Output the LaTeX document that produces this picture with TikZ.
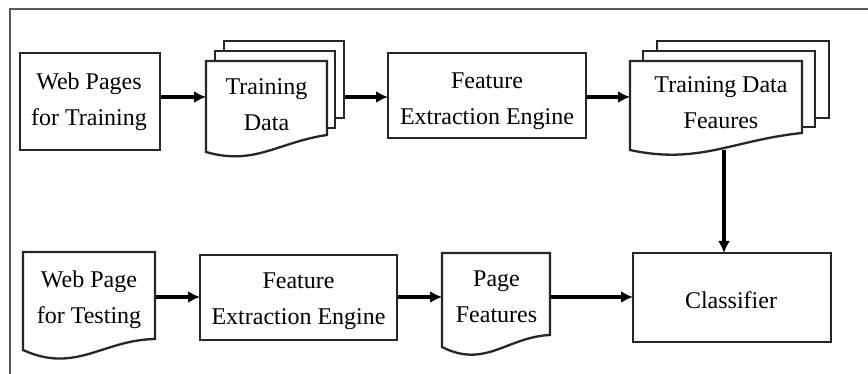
\documentclass[tikz,border=0pt]{standalone}
\usepackage{fontspec}
\setmainfont{Liberation Serif}
\usetikzlibrary{calc,arrows.meta}
\pgfdeclarelayer{arrowlayer}
\pgfdeclarelayer{shapelayer}
\pgfsetlayers{arrowlayer,shapelayer,main}
\newcommand{\docoutline}[4]{%
  \draw[docline] (#1.south west)
    .. controls ($(#1.south west)!0.4!(#1.south east)+(0,#3)$)
            and ($(#1.south west)!0.6!(#1.south east)+(0,-#4)$)
    .. ($(#1.south east)+(0,-#2)$) -- (#1.north east) -- (#1.north west) -- cycle;}
\begin{document}
\begin{tikzpicture}[x=1pt,y=-1pt,
  box/.style={draw=black!85, line width=2.3pt, inner sep=0pt, outer sep=0pt},
  shp/.style={inner sep=0pt, outer sep=0pt},
  docline/.style={draw=black!85, line width=2.3pt, fill=white, line join=miter},
  txt/.style={font=\fontsize{24}{36}\selectfont, align=center, inner sep=0pt, text=black},
  arr/.style={line width=3.4pt, draw=black, -{Latex[length=12pt,width=12pt]}},
  frame/.style={draw=black!65, line width=1.2pt}]
\useasboundingbox (0,0) rectangle (868,374);
\draw[frame] (868,9) -- (10,9) -- (10,374);

% geometry nodes
\node[box, minimum width=140pt, minimum height=97pt] (wpt) at (90,101.5) {};
\node[shp, minimum width=121pt, minimum height=91pt] (td) at (266.5,106.5) {};
\node[box, minimum width=198pt, minimum height=85pt] (fe1) at (487,95.5) {};
\node[shp, minimum width=172pt, minimum height=89pt] (tdf) at (716,105.5) {};
\node[shp, minimum width=132pt, minimum height=98pt] (wpte) at (89,301) {};
\node[box, minimum width=197pt, minimum height=85pt] (fe2) at (298.5,297.5) {};
\node[shp, minimum width=108pt, minimum height=94pt] (pf) at (496,300) {};
\node[box, minimum width=198pt, minimum height=89pt] (cls) at (732,297.5) {};

% texts
\node[txt] (wptT) at (89,101.4) {Web Pages\\for Training};
\node[txt] (tdT) at (266.5,104.8) {Training\\Data};
\node[txt] (fe1T) at (487,101.4) {Feature\\Extraction Engine};
\node[txt] (tdfT) at (721,102.8) {Training Data\\Feaures};
\node[txt] (wpteT) at (89,299.4) {Web Page\\for Testing};
\node[txt] (fe2T) at (298.5,301.4) {Feature\\Extraction Engine};
\node[txt] (pfT) at (496.5,296.8) {Page\\Features};
\node[txt] (clsT) at (731,299.8) {Classifier};

% document shapes
\begin{pgfonlayer}{shapelayer}
  \draw[docline] ($(td.north west)+(18,-20)$) rectangle ($(td.south east)+(17,-34)$);
  \draw[docline] ($(td.north west)+(9,-10)$) rectangle ($(td.south east)+(8,-24)$);
  \docoutline{td}{17}{14}{10}
  \draw[docline] ($(tdf.north west)+(27,-20)$) rectangle ($(tdf.south east)+(27,-32)$);
  \draw[docline] ($(tdf.north west)+(13,-10)$) rectangle ($(tdf.south east)+(13,-23)$);
  \docoutline{tdf}{17}{15}{10}
  \docoutline{wpte}{11}{24}{10}
  \docoutline{pf}{12}{22}{10}
\end{pgfonlayer}

% connectors
\coordinate (r1) at (0,97);
\coordinate (r2) at (0,297);
\coordinate (c1) at (724,0);
\begin{pgfonlayer}{arrowlayer}
  \draw[arr] (wpt.east |- r1) -- (td.west |- r1);
  \draw[arr] (td.east |- r1) -- (fe1.west |- r1);
  \draw[arr] (fe1.east |- r1) -- (tdf.west |- r1);
  \draw[arr] (tdf.south -| c1) -- (cls.north -| c1);
  \draw[arr] (wpte.east |- r2) -- (fe2.west |- r2);
  \draw[arr] (fe2.east |- r2) -- (pf.west |- r2);
  \draw[arr] (pf.east |- r2) -- (cls.west |- r2);
\end{pgfonlayer}
\end{tikzpicture}
\end{document}
